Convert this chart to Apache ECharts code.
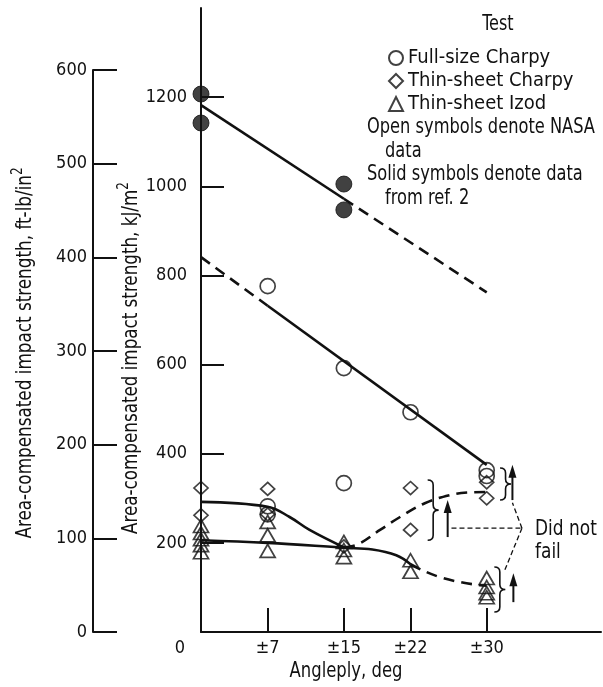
<!DOCTYPE html>
<html>
<head>
<meta charset="utf-8">
<script src="https://cdn.jsdelivr.net/npm/echarts@6/dist/echarts.min.js"></script>
<style>
  html, body { margin: 0; padding: 0; background: #fff; }
  #chart { width: 603px; height: 687px; }
</style>
</head>
<body>
<div id="chart"></div>
<script>
var FONT = "'Liberation Sans Narrow','DejaVu Sans Condensed',sans-serif";
var INK = '#111';

// axes
var angleTicks = [0, 7, 15, 22, 30];
var angleLabels = ['0', '±7', '±15', '±22', '±30'];
var kjTicks = [200, 400, 600, 800, 1000, 1200];
var ftlbTicks = [0, 100, 200, 300, 400, 500, 600];

// measured points [angleply deg, kJ/m2]
var fullCharpyNasa = [[7, 776], [7, 282], [7, 264], [15, 592], [15, 334], [22, 493], [30, 363], [30, 350]];
var fullCharpyRef2 = [[0, 1207], [0, 1142], [15, 1005], [15, 947]];
var thinCharpy = [[0, 323], [0, 262], [7, 321], [7, 264], [15, 192], [22, 323], [22, 229], [30, 336], [30, 300]];
var thinIzod = [[0, 238], [0, 222], [0, 208], [0, 195], [0, 179], [7, 247], [7, 217], [7, 182],
                [15, 202], [15, 184], [15, 168], [22, 161], [22, 135], [30, 121], [30, 101], [30, 87], [30, 78]];

// faired curves
var ref2FitSolid = [[0, 1182], [15, 972]];
var ref2FitDashed = [[15, 972], [30, 762]];
var nasaFitDashed = [[0, 841], [7, 732]];
var nasaFitSolid = [[7, 732], [30, 375]];
var thinCharpySolid = [[0, 292], [7, 281], [9.3, 258], [11.4, 229], [15, 190]];
var thinCharpyDashed = [[15, 190], [16.4, 196], [18.8, 229], [20.9, 258], [23.5, 289], [26.1, 307], [28, 313], [30, 314]];
var izodSolid = [[0, 206], [7, 200], [15, 189], [18, 185], [20.5, 172], [22, 152]];
var izodDashed = [[22, 152], [23.2, 139], [25.1, 123], [27.2, 112], [29.3, 105], [30, 104]];

// "did not fail" marks: braces [x, top, bottom], arrows [x, from, to], leaders [x1, v1, x2, v2]
var braces = [[23.8, 341, 206], [31.4, 368, 296], [30.8, 146, 45]];
var arrows = [[25.9, 213, 296], [32.7, 296, 375], [32.8, 67, 132]];
var leaders = [[26.3, 233, 33.7, 233], [33.7, 233, 32.7, 290], [33.7, 233, 31.9, 139]];

function lineSeries(data, dashed, smooth) {
  return {
    type: 'line', data: data, symbol: 'none', smooth: smooth ? 0.4 : false, z: 2,
    lineStyle: { color: INK, width: 2.6, type: dashed ? [11, 7] : 'solid' }
  };
}

function braceItem(params, api) {
  var a = api.coord([api.value(0), api.value(1)]);
  var b = api.coord([api.value(0), api.value(2)]);
  var x = a[0], y1 = a[1], y2 = b[1], w = 11, c = 5, m = (y1 + y2) / 2, xm = x + w / 2;
  var d = 'M' + x + ',' + y1 + ' Q' + xm + ',' + y1 + ' ' + xm + ',' + (y1 + c) +
    ' L' + xm + ',' + (m - c) + ' Q' + xm + ',' + m + ' ' + (x + w) + ',' + m +
    ' Q' + xm + ',' + m + ' ' + xm + ',' + (m + c) + ' L' + xm + ',' + (y2 - c) +
    ' Q' + xm + ',' + y2 + ' ' + x + ',' + y2;
  return { type: 'path', shape: { pathData: d }, style: { fill: 'none', stroke: INK, lineWidth: 1.6 } };
}

function arrowItem(params, api) {
  var a = api.coord([api.value(0), api.value(1)]);
  var b = api.coord([api.value(0), api.value(2)]);
  return {
    type: 'group', children: [
      { type: 'line', shape: { x1: a[0], y1: a[1], x2: b[0], y2: b[1] + 8 }, style: { stroke: INK, lineWidth: 2 } },
      { type: 'polygon', shape: { points: [[b[0], b[1]], [b[0] - 4, b[1] + 13], [b[0] + 4, b[1] + 13]] }, style: { fill: INK } }
    ]
  };
}

function leaderItem(params, api) {
  var a = api.coord([api.value(0), api.value(1)]);
  var b = api.coord([api.value(2), api.value(3)]);
  return { type: 'line', shape: { x1: a[0], y1: a[1], x2: b[0], y2: b[1] }, style: { stroke: INK, lineWidth: 1.3, lineDash: [5, 3] } };
}

// narrow text: squeeze a normal font horizontally
function txt(text, x, y, align, sx) {
  return {
    type: 'text', x: x, y: y, z: 10, scaleX: sx || 0.86,
    style: { text: text, font: '21px ' + FONT, fill: INK, align: align || 'left', verticalAlign: 'middle',
             textAlign: align || 'left', textVerticalAlign: 'middle' }
  };
}

function axisName(text, x, y, sx) {
  return {
    type: 'text', x: x, y: y, rotation: Math.PI / 2, scaleX: sx, z: 10,
    style: {
      text: text, font: '21px ' + FONT, fill: INK, lineHeight: 30,
      align: 'center', verticalAlign: 'middle', textAlign: 'center', textVerticalAlign: 'middle',
      rich: { s: { fontSize: 15, fontFamily: FONT, verticalAlign: 'top', lineHeight: 15 } }
    }
  };
}

var myChart = echarts.init(document.getElementById('chart'));
var option = {
  animation: false,
  backgroundColor: '#fff',
  textStyle: { fontFamily: FONT, color: INK },
  grid: [
    { left: 201, top: 8, width: 400, height: 624 },
    { left: 93, top: 70, width: 10, height: 562 }
  ],
  legend: {
    data: ['Full-size Charpy', 'Thin-sheet Charpy', 'Thin-sheet Izod'],
    orient: 'vertical', left: 388, top: 48, padding: 0, itemWidth: 14, itemHeight: 14, itemGap: 3,
    selectedMode: false,
    textStyle: { fontSize: 20, fontFamily: FONT, color: INK }
  },
  xAxis: [{
    type: 'value', min: 0, max: 42, gridIndex: 0,
    splitLine: { show: false },
    axisLine: { lineStyle: { color: INK, width: 2 } },
    axisTick: { inside: true, length: 24, lineStyle: { color: INK, width: 2 }, customValues: angleTicks.slice(1) },
    axisLabel: {
      customValues: angleTicks, margin: 7, fontSize: 18, fontFamily: FONT, color: INK,
      formatter: function (v) {
        var i = angleTicks.indexOf(v);
        return i === 0 ? '{o|' + angleLabels[0] + '}' : angleLabels[i];
      },
      rich: { o: { fontSize: 18, fontFamily: FONT, color: INK, padding: [0, 42, 0, 0] } }
    }
  }, {
    type: 'value', gridIndex: 1, show: false, min: 0, max: 1
  }],
  yAxis: [{
    type: 'value', min: 0, max: 1400, interval: 200, gridIndex: 0,
    splitLine: { show: false },
    axisLine: { show: true, lineStyle: { color: INK, width: 2 } },
    axisTick: { show: true, inside: true, length: 23, lineStyle: { color: INK, width: 2 }, customValues: kjTicks },
    axisLabel: { customValues: kjTicks, margin: 14, fontSize: 18, fontFamily: FONT, color: INK,
                 formatter: function (v) { return String(v); } }
  }, {
    type: 'value', min: 0, max: 600, interval: 100, gridIndex: 1,
    splitLine: { show: false },
    axisLine: { show: true, lineStyle: { color: INK, width: 2 } },
    axisTick: { show: true, inside: true, length: 24, lineStyle: { color: INK, width: 2 }, customValues: ftlbTicks },
    axisLabel: { customValues: ftlbTicks, margin: 6, fontSize: 18, fontFamily: FONT, color: INK,
                 formatter: function (v) { return String(v); } }
  }],
  graphic: [
    txt('Test', 498, 25, 'center', 0.85),
    txt('Open symbols denote NASA', 367, 128),
    txt('data', 385, 152),
    txt('Solid symbols denote data', 367, 175),
    txt('from ref. 2', 385, 199),
    txt('Did not', 535, 530, 'left', 0.9),
    txt('fail', 535, 553, 'left', 0.9),
    txt('Angleply, deg', 346, 672, 'center', 0.87),
    axisName('Area-compensated impact strength, ft-lb/in{s|2}', 26, 353, 0.89),
    axisName('Area-compensated impact strength, kJ/m{s|2}', 132, 358, 0.886)
  ],
  series: [
    lineSeries(ref2FitSolid, false, false),
    lineSeries(ref2FitDashed, true, false),
    lineSeries(nasaFitDashed, true, false),
    lineSeries(nasaFitSolid, false, false),
    lineSeries(thinCharpySolid, false, true),
    lineSeries(thinCharpyDashed, true, true),
    lineSeries(izodSolid, false, true),
    lineSeries(izodDashed, true, true),
    {
      name: 'Full-size Charpy', type: 'scatter', data: fullCharpyNasa, symbol: 'circle', symbolSize: 15, z: 3,
      itemStyle: { color: 'transparent', borderColor: INK, borderWidth: 1.7 }
    },
    {
      name: 'Ref. 2', type: 'scatter', data: fullCharpyRef2, symbol: 'circle', symbolSize: 16, z: 3,
      itemStyle: { color: INK, borderColor: INK, borderWidth: 1 }
    },
    {
      name: 'Thin-sheet Charpy', type: 'scatter', data: thinCharpy, symbol: 'diamond', symbolSize: [14, 13], z: 3,
      itemStyle: { color: 'transparent', borderColor: INK, borderWidth: 1.7 }
    },
    {
      name: 'Thin-sheet Izod', type: 'scatter', data: thinIzod, symbol: 'triangle', symbolSize: [15, 13], z: 3,
      itemStyle: { color: 'transparent', borderColor: INK, borderWidth: 1.7 }
    },
    { type: 'custom', data: braces, renderItem: braceItem, encode: { x: 0, y: [1, 2] }, z: 4 },
    { type: 'custom', data: arrows, renderItem: arrowItem, encode: { x: 0, y: [1, 2] }, z: 4 },
    { type: 'custom', data: leaders, renderItem: leaderItem, encode: { x: [0, 2], y: [1, 3] }, z: 4 }
  ]
};
myChart.setOption(option);
</script>
</body>
</html>
